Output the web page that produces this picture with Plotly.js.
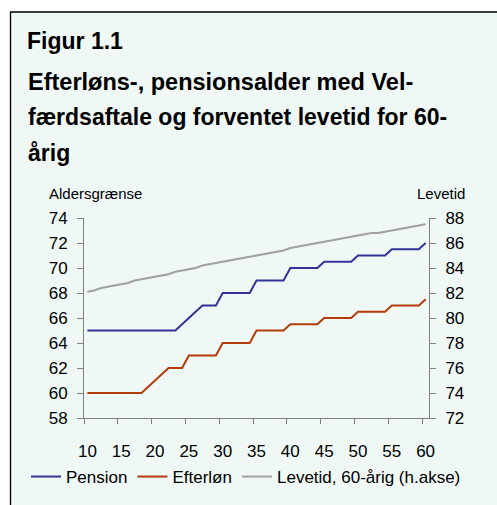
<!DOCTYPE html>
<html>
<head>
<meta charset="utf-8">
<script src="https://cdn.plot.ly/plotly-3.0.1.min.js"></script>
<style>html,body{margin:0;padding:0;background:#fff;}#chart{width:497px;height:505px;}</style>
</head>
<body>
<div id="chart"></div>
<script>
// ---- Data ----
var years = [10,11,12,13,14,15,16,17,18,19,20,21,22,23,24,25,26,27,28,29,30,31,32,33,34,35,36,37,38,39,40,41,42,43,44,45,46,47,48,49,50,51,52,53,54,55,56,57,58,59,60];
var xTickVals = [10,15,20,25,30,35,40,45,50,55,60];
var xTickText = ["10","15","20","25","30","35","40","45","50","55","60"];
var xTickMarks = [9.5,14.5,19.5,24.5,29.5,34.5,39.5,44.5,49.5,54.5,59.5];
var pension = [65,65,65,65,65,65,65,65,65,65,65,65,65,65,65.5,66,66.5,67,67,67,68,68,68,68,68,69,69,69,69,69,70,70,70,70,70,70.5,70.5,70.5,70.5,70.5,71,71,71,71,71,71.5,71.5,71.5,71.5,71.5,72];
var efterlon = [60,60,60,60,60,60,60,60,60,60.5,61,61.5,62,62,62,63,63,63,63,63,64,64,64,64,64,65,65,65,65,65,65.5,65.5,65.5,65.5,65.5,66,66,66,66,66,66.5,66.5,66.5,66.5,66.5,67,67,67,67,67,67.5];
var levetid = [82.1,82.2,82.4,82.5,82.6,82.7,82.8,83.0,83.1,83.2,83.3,83.4,83.5,83.7,83.8,83.9,84.0,84.2,84.3,84.4,84.5,84.6,84.7,84.8,84.9,85.0,85.1,85.2,85.3,85.4,85.6,85.7,85.8,85.9,86.0,86.1,86.2,86.3,86.4,86.5,86.6,86.7,86.8,86.8,86.9,87.0,87.1,87.2,87.3,87.4,87.5];
var seriesNames = ["Pension","Efterløn","Levetid, 60-årig (h.akse)"];
var leftTicks = [58,60,62,64,66,68,70,72,74];
var rightTicks = [72,74,76,78,80,82,84,86,88];

// ---- Layout helpers (pixel -> paper) ----
var W = 497, H = 505;
var L = 84, R = 429, T = 218, B = 418;
function px(x){ return (x - L) / (W - L); }
function py(y){ return (B - y) / (B - T); }

var FONT = "Liberation Sans, Arial, sans-serif";
var BG = "#eff8f5";
var AX = "#808080";

var traces = [
  {x: years, y: pension, name: seriesNames[0], type: "scatter", mode: "lines", line: {color: "#333399", width: 2}, yaxis: "y"},
  {x: years, y: efterlon, name: seriesNames[1], type: "scatter", mode: "lines", line: {color: "#b33c0a", width: 2}, yaxis: "y"},
  {x: years, y: levetid, name: seriesNames[2], type: "scatter", mode: "lines", line: {color: "#a0a0a0", width: 2}, yaxis: "y2"}
];

var layout = {
  width: W, height: H,
  margin: {l: L, r: 0, t: T, b: H - B, pad: 0, autoexpand: false},
  paper_bgcolor: BG, plot_bgcolor: BG,
  font: {family: FONT, size: 17, color: "#000"},
  showlegend: true,
  legend: {orientation: "h", x: px(26), xanchor: "left", y: py(477), yanchor: "middle",
           bgcolor: "rgba(0,0,0,0)", font: {size: 17, family: FONT}, itemwidth: 30, tracegroupgap: 0},
  xaxis: {domain: [0, (R - L) / (W - L)], range: [9.5, 60.5], tickmode: "array", tickvals: xTickVals, ticktext: xTickText,
          ticks: "", showgrid: false, zeroline: false, showline: true, linecolor: AX, linewidth: 1,
          ticklabelstandoff: 18,
          minor: {tickmode: "array", tickvals: xTickMarks, ticks: "outside", ticklen: 5, tickcolor: AX, tickwidth: 1, showgrid: false},
          fixedrange: true},
  yaxis: {range: [58, 74], tickmode: "array", tickvals: leftTicks, ticks: "outside", ticklen: 6, tickcolor: AX,
          showgrid: false, zeroline: false, showline: true, linecolor: AX, linewidth: 1, ticklabelstandoff: 6, fixedrange: true},
  yaxis2: {range: [72, 88], tickmode: "array", tickvals: rightTicks, ticks: "outside", ticklen: 6, tickcolor: AX,
           overlaying: "y", side: "right", anchor: "x", showgrid: false, zeroline: false, showline: true, linecolor: AX, linewidth: 1,
           ticklabelstandoff: 6, fixedrange: true},
  shapes: [
    {type: "rect", xref: "paper", yref: "paper", x0: px(-5), x1: px(505), y0: py(-5), y1: py(12), fillcolor: "#fff", line: {width: 0}, layer: "below"},
    {type: "rect", xref: "paper", yref: "paper", x0: px(-5), x1: px(10), y0: py(-5), y1: py(510), fillcolor: "#fff", line: {width: 0}, layer: "below"},
    {type: "line", xref: "paper", yref: "paper", x0: px(10), x1: px(500), y0: py(12), y1: py(12), line: {color: "#000", width: 1.3}},
    {type: "line", xref: "paper", yref: "paper", x0: px(10.5), x1: px(10.5), y0: py(12), y1: py(510), line: {color: "#000", width: 1.3}}
  ],
  annotations: [
    {text: "<b>Figur 1.1</b>", xref: "paper", yref: "paper", x: px(25), y: py(41), xanchor: "left", yanchor: "middle", showarrow: false, font: {size: 23, family: FONT}},
    {text: "<b>Efterløns-, pensionsalder med Vel-</b>", xref: "paper", yref: "paper", x: px(26), y: py(82), xanchor: "left", yanchor: "middle", showarrow: false, font: {size: 23.5, family: FONT}},
    {text: "<b>færdsaftale og forventet levetid for 60-</b>", xref: "paper", yref: "paper", x: px(26), y: py(117), xanchor: "left", yanchor: "middle", showarrow: false, font: {size: 23, family: FONT}},
    {text: "<b>årig</b>", xref: "paper", yref: "paper", x: px(26), y: py(153), xanchor: "left", yanchor: "middle", showarrow: false, font: {size: 23, family: FONT}},
    {text: "Aldersgrænse", xref: "paper", yref: "paper", x: px(47), y: py(193), xanchor: "left", yanchor: "middle", showarrow: false, font: {size: 15, family: FONT}},
    {text: "Levetid", xref: "paper", yref: "paper", x: px(467), y: py(193), xanchor: "right", yanchor: "middle", showarrow: false, font: {size: 15, family: FONT}}
  ]
};

Plotly.newPlot("chart", traces, layout, {displayModeBar: false, staticPlot: true});
</script>
</body>
</html>
